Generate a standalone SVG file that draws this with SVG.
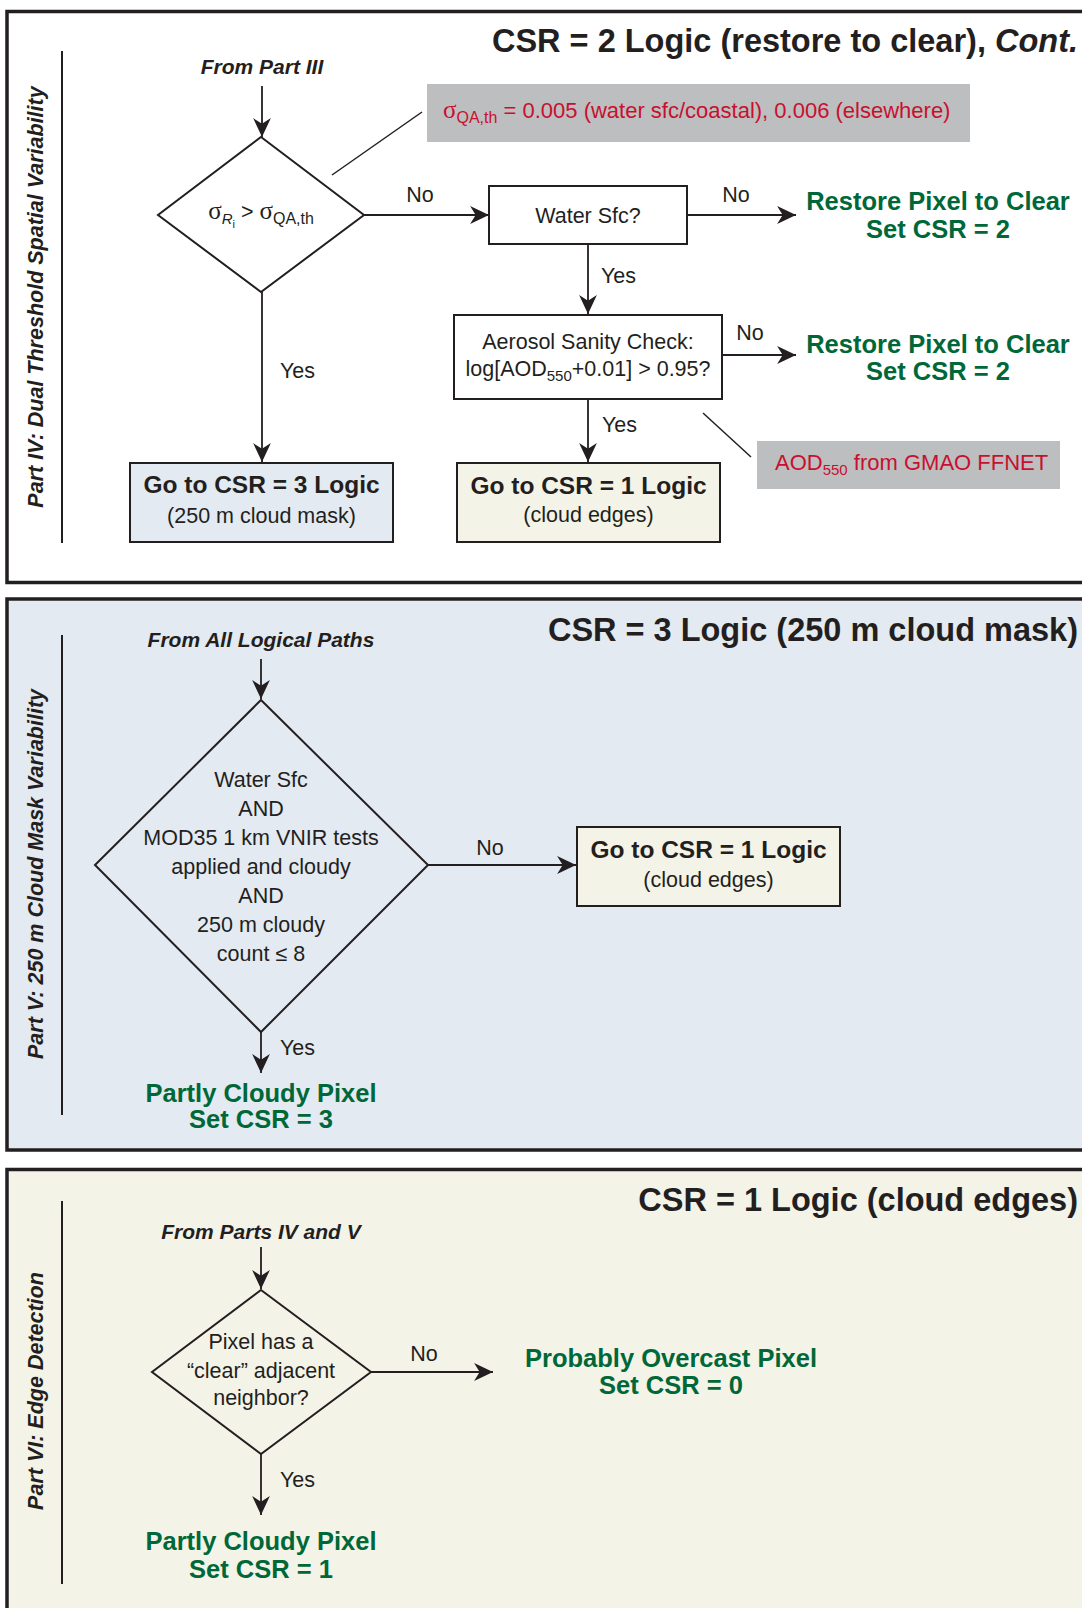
<svg xmlns="http://www.w3.org/2000/svg" width="1082" height="1608" viewBox="0 0 1082 1608">
<defs>
<style>
text { font-family: "Liberation Sans", Arial, sans-serif; fill: #231f20; }
.reg { font-size: 21.5px; }
.mid { text-anchor: middle; }
.bi { font-weight: bold; font-style: italic; font-size: 21px; text-anchor: middle; }
.title { font-weight: bold; font-size: 32.5px; text-anchor: end; }
.green { font-weight: bold; font-size: 25.5px; fill: #006838; text-anchor: middle; }
.boxb { font-weight: bold; font-size: 24.5px; text-anchor: middle; }
.red { fill: #c8102e; font-size: 22px; }
.side { font-weight: bold; font-style: italic; font-size: 21.5px; text-anchor: middle; }
.sig { font-family: "Liberation Serif", "Times New Roman", serif; font-size: 25px; }
.panel { stroke: #231f20; stroke-width: 3.5; }
.sep { stroke: #231f20; stroke-width: 2; }
.node { stroke: #231f20; stroke-width: 2; }
.conn { stroke: #231f20; stroke-width: 1.8; fill: none; marker-end: url(#ah); }
.lead { stroke: #231f20; stroke-width: 1.5; fill: none; }
.note { fill: #bcbec0; }
</style>
<marker id="ah" markerUnits="userSpaceOnUse" markerWidth="20" markerHeight="20" viewBox="0 -9 18 18" refX="17" refY="0" orient="auto">
<path d="M0,-8 L17,0 L0,8 L5,0 Z" fill="#231f20"/>
</marker>
</defs>

<rect width="1082" height="1608" fill="#ffffff"/>

<!-- Panels -->
<g id="panel-iv">
<rect class="panel" x="7" y="11.5" width="1090" height="571" fill="#ffffff"/>
<line class="sep" x1="62" y1="51" x2="62" y2="543"/>
<text class="side" transform="translate(43,297) rotate(-90)">Part IV: Dual Threshold Spatial Variability</text>
<text class="title" x="1078" y="52">CSR = 2 Logic (restore to clear), <tspan font-style="italic">Cont.</tspan></text>
</g>
<g id="panel-v">
<rect class="panel" x="7" y="599" width="1090" height="551" fill="#e3eaf1"/>
<line class="sep" x1="62" y1="635" x2="62" y2="1115"/>
<text class="side" transform="translate(43,874) rotate(-90)">Part V: 250 m Cloud Mask Variability</text>
<text class="title" x="1078" y="641">CSR = 3 Logic (250 m cloud mask)</text>
</g>
<g id="panel-vi">
<rect class="panel" x="7" y="1169.5" width="1090" height="460" fill="#f4f3e8"/>
<line class="sep" x1="62" y1="1201" x2="62" y2="1584"/>
<text class="side" transform="translate(43,1391) rotate(-90)">Part VI: Edge Detection</text>
<text class="title" x="1078" y="1211">CSR = 1 Logic (cloud edges)</text>
</g>

<!-- Connectors -->
<g id="connectors">
<line class="conn" x1="262" y1="86" x2="262" y2="137"/>
<line class="conn" x1="364" y1="215" x2="489" y2="215"/>
<line class="conn" x1="687" y1="215" x2="796" y2="215"/>
<line class="conn" x1="588" y1="244" x2="588" y2="314"/>
<line class="conn" x1="722" y1="355" x2="796" y2="355"/>
<line class="conn" x1="588" y1="399" x2="588" y2="462"/>
<line class="conn" x1="262" y1="292" x2="262" y2="462"/>
<line class="lead" x1="332" y1="175" x2="422" y2="112"/>
<line class="lead" x1="703" y1="413" x2="751" y2="457"/>

<line class="conn" x1="261" y1="659" x2="261" y2="699"/>
<line class="conn" x1="428" y1="865" x2="576" y2="865"/>
<line class="conn" x1="261" y1="1032" x2="261" y2="1073"/>

<line class="conn" x1="261" y1="1247" x2="261" y2="1289"/>
<line class="conn" x1="371" y1="1372" x2="493" y2="1372"/>
<line class="conn" x1="261" y1="1454" x2="261" y2="1515"/>

<text class="reg mid" x="420" y="202">No</text>
<text class="reg mid" x="736" y="202">No</text>
<text class="reg" x="601" y="283">Yes</text>
<text class="reg mid" x="750" y="340">No</text>
<text class="reg" x="602" y="432">Yes</text>
<text class="reg" x="280" y="378">Yes</text>
<text class="reg mid" x="490" y="855">No</text>
<text class="reg" x="280" y="1055">Yes</text>
<text class="reg mid" x="424" y="1361">No</text>
<text class="reg" x="280" y="1487">Yes</text>
</g>

<!-- Panel IV nodes -->
<g id="from-part-iii"><text class="bi" x="262" y="74">From Part III</text></g>
<g id="sigma-decision">
<polygon class="node" points="261,137 364,215 261,292 158,215" fill="#ffffff"/>
<text class="reg mid" x="261" y="219" font-size="22"><tspan class="sig">σ</tspan><tspan font-style="italic" font-size="15" dy="5">R</tspan><tspan font-size="11" dy="4">i</tspan><tspan dy="-9"> &gt; </tspan><tspan class="sig">σ</tspan><tspan font-size="16" dy="5">QA,th</tspan></text>
</g>
<g id="sigma-note">
<rect class="note" x="427" y="84" width="543" height="58"/>
<text class="red" x="443" y="118"><tspan class="sig">σ</tspan><tspan font-size="16" dy="5">QA,th</tspan><tspan dy="-5"> = 0.005 (water sfc/coastal), 0.006 (elsewhere)</tspan></text>
</g>
<g id="water-sfc">
<rect class="node" x="489" y="186" width="198" height="58" fill="#ffffff"/>
<text class="reg mid" x="588" y="223">Water Sfc?</text>
</g>
<g id="restore-1">
<text class="green" x="938" y="210">Restore Pixel to Clear</text>
<text class="green" x="938" y="238">Set CSR = 2</text>
</g>
<g id="aerosol-check">
<rect class="node" x="454" y="315" width="268" height="84" fill="#ffffff"/>
<text class="reg mid" x="588" y="349">Aerosol Sanity Check:</text>
<text class="reg mid" x="588" y="376">log[AOD<tspan font-size="15" dy="5">550</tspan><tspan dy="-5">+0.01] &gt; 0.95?</tspan></text>
</g>
<g id="restore-2">
<text class="green" x="938" y="353">Restore Pixel to Clear</text>
<text class="green" x="938" y="380">Set CSR = 2</text>
</g>
<g id="aod-note">
<rect class="note" x="757" y="441" width="303" height="48"/>
<text class="red" x="775" y="470" font-size="21.5">AOD<tspan font-size="15" dy="5">550</tspan><tspan dy="-5"> from GMAO FFNET</tspan></text>
</g>
<g id="goto-csr1-a">
<rect class="node" x="457" y="463" width="263" height="79" fill="#f4f3e8"/>
<text class="boxb" x="588.5" y="494">Go to CSR = 1 Logic</text>
<text class="reg mid" x="588.5" y="522" font-size="22">(cloud edges)</text>
</g>
<g id="goto-csr3">
<rect class="node" x="130" y="463" width="263" height="79" fill="#e3eaf1"/>
<text class="boxb" x="261.5" y="493">Go to CSR = 3 Logic</text>
<text class="reg mid" x="261.5" y="523" font-size="22">(250 m cloud mask)</text>
</g>

<!-- Panel V nodes -->
<g id="from-all"><text class="bi" x="261" y="647">From All Logical Paths</text></g>
<g id="mask-decision">
<polygon class="node" points="261,700 428,865 261,1032 95,865" fill="#e3eaf1"/>
<text class="reg mid" x="261" y="787">Water Sfc</text>
<text class="reg mid" x="261" y="816">AND</text>
<text class="reg mid" x="261" y="845">MOD35 1 km VNIR tests</text>
<text class="reg mid" x="261" y="874">applied and cloudy</text>
<text class="reg mid" x="261" y="903">AND</text>
<text class="reg mid" x="261" y="932">250 m cloudy</text>
<text class="reg mid" x="261" y="961">count ≤ 8</text>
</g>
<g id="goto-csr1-b">
<rect class="node" x="577" y="827" width="263" height="79" fill="#f4f3e8"/>
<text class="boxb" x="708.5" y="858">Go to CSR = 1 Logic</text>
<text class="reg mid" x="708.5" y="887" font-size="22">(cloud edges)</text>
</g>
<g id="partly-cloudy-3">
<text class="green" x="261" y="1102">Partly Cloudy Pixel</text>
<text class="green" x="261" y="1128">Set CSR = 3</text>
</g>

<!-- Panel VI nodes -->
<g id="from-iv-v"><text class="bi" x="261" y="1239">From Parts IV and V</text></g>
<g id="edge-decision">
<polygon class="node" points="261,1290 371,1372 261,1454 152,1372" fill="#f4f3e8"/>
<text class="reg mid" x="261" y="1349">Pixel has a</text>
<text class="reg mid" x="261" y="1378">“clear” adjacent</text>
<text class="reg mid" x="261" y="1405">neighbor?</text>
</g>
<g id="overcast">
<text class="green" x="671" y="1367">Probably Overcast Pixel</text>
<text class="green" x="671" y="1394">Set CSR = 0</text>
</g>
<g id="partly-cloudy-1">
<text class="green" x="261" y="1550">Partly Cloudy Pixel</text>
<text class="green" x="261" y="1578">Set CSR = 1</text>
</g>
</svg>
